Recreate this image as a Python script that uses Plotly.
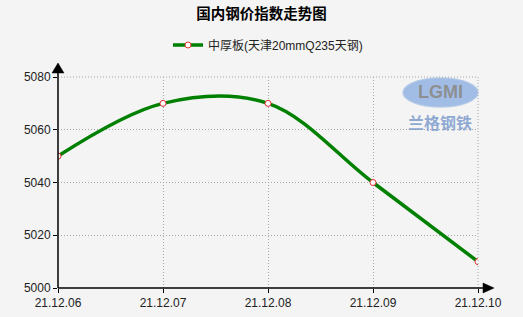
import plotly.graph_objects as go

categories = ["21.12.06", "21.12.07", "21.12.08", "21.12.09", "21.12.10"]
values = [5050, 5070, 5070, 5040, 5010]
series_name = "中厚板(天津20mmQ235天钢)"
title_text = "国内钢价指数走势图"
y_ticks = [5000, 5020, 5040, 5060, 5080]

W, H = 523, 317
L, R, T, B = 58, 45, 77, 29
pw, ph = W - L - R, H - T - B

def px(x):
    return (x - L) / pw

def py(y):
    return (H - B - y) / ph

fig = go.Figure()
fig.add_trace(go.Scatter(
    x=list(range(len(categories))), y=values, mode="lines+markers",
    name=series_name,
    line=dict(color="#008000", width=3.5, shape="spline", smoothing=1.0),
    marker=dict(size=6, color="white", line=dict(color="#e03030", width=1)),
))

grid_col = "#a8a8a8"
grid_dash = "1px,2px"

shapes = []
# logo ellipse
shapes.append(dict(type="circle", xref="paper", yref="paper", layer="below",
                   x0=px(403), x1=px(478), y0=py(107), y1=py(78),
                   fillcolor="rgba(140,175,225,0.8)", line=dict(color="rgba(170,195,230,0.7)", width=1.5)))
# top & right dotted border
shapes.append(dict(type="line", xref="paper", yref="paper", x0=1, x1=1, y0=0, y1=1,
                   line=dict(color=grid_col, width=1, dash=grid_dash)))
shapes.append(dict(type="line", xref="paper", yref="paper", x0=0, x1=1, y0=1, y1=1,
                   line=dict(color=grid_col, width=1, dash=grid_dash)))
# y axis arrow
shapes.append(dict(type="line", xref="paper", yref="paper", x0=0, x1=0, y0=0, y1=py(70),
                   line=dict(color="black", width=1.5)))
shapes.append(dict(type="path", xref="paper", yref="paper",
                   path=f"M {px(52)} {py(73)} L {px(64)} {py(73)} L {px(58)} {py(63)} Z",
                   fillcolor="black", line=dict(color="black", width=0.5)))
# x axis arrow
shapes.append(dict(type="line", xref="paper", yref="paper", x0=0, x1=px(486), y0=0, y1=0,
                   line=dict(color="black", width=1.5)))
shapes.append(dict(type="path", xref="paper", yref="paper",
                   path=f"M {px(483)} {py(283)} L {px(483)} {py(293)} L {px(494)} {py(288)} Z",
                   fillcolor="black", line=dict(color="black", width=0.5)))

annotations = [
    dict(text="<b>LGMI</b>", xref="paper", yref="paper", x=px(440), y=py(92),
         xanchor="center", yanchor="middle", showarrow=False,
         font=dict(family="Liberation Sans, Arial", size=18, color="rgba(140,140,140,0.95)")),
    dict(text="<b>兰格钢铁</b>", xref="paper", yref="paper", x=px(440), y=py(122),
         xanchor="center", yanchor="middle", showarrow=False,
         font=dict(family="Noto Sans CJK SC", size=16, color="rgba(110,145,200,0.75)")),
]

fig.update_layout(
    width=W, height=H,
    margin=dict(l=L, r=R, t=T, b=B, autoexpand=False),
    paper_bgcolor="#f4f4f4", plot_bgcolor="#f4f4f4",
    title=dict(text="<b>" + title_text + "</b>", x=0.5, xanchor="center", y=1 - 14 / H, yanchor="middle",
               font=dict(family="Noto Sans CJK SC", size=14.5, color="black")),
    showlegend=True,
    legend=dict(orientation="h", x=0.5, xanchor="center", y=py(45), yanchor="middle",
                font=dict(family="Liberation Sans, Noto Sans CJK SC", size=12, color="#222"),
                bgcolor="rgba(0,0,0,0)"),
    font=dict(family="Liberation Sans, Arial", size=12, color="#222"),
    xaxis=dict(range=[0, len(categories) - 1], tickmode="array", tickvals=list(range(len(categories))),
               ticktext=categories, showgrid=True, gridcolor=grid_col, griddash=grid_dash, gridwidth=1,
               ticks="outside", ticklen=4, tickcolor="black", showline=False, zeroline=False,
               automargin=False, tickfont=dict(size=12, color="#222")),
    yaxis=dict(range=[5000, 5080], tickmode="array", tickvals=y_ticks,
               showgrid=True, gridcolor=grid_col, griddash=grid_dash, gridwidth=1,
               ticks="outside", ticklen=4, tickcolor="black", showline=False, zeroline=False,
               automargin=False, tickfont=dict(size=12, color="#222")),
    shapes=shapes, annotations=annotations,
)

fig.write_html("out.html")
